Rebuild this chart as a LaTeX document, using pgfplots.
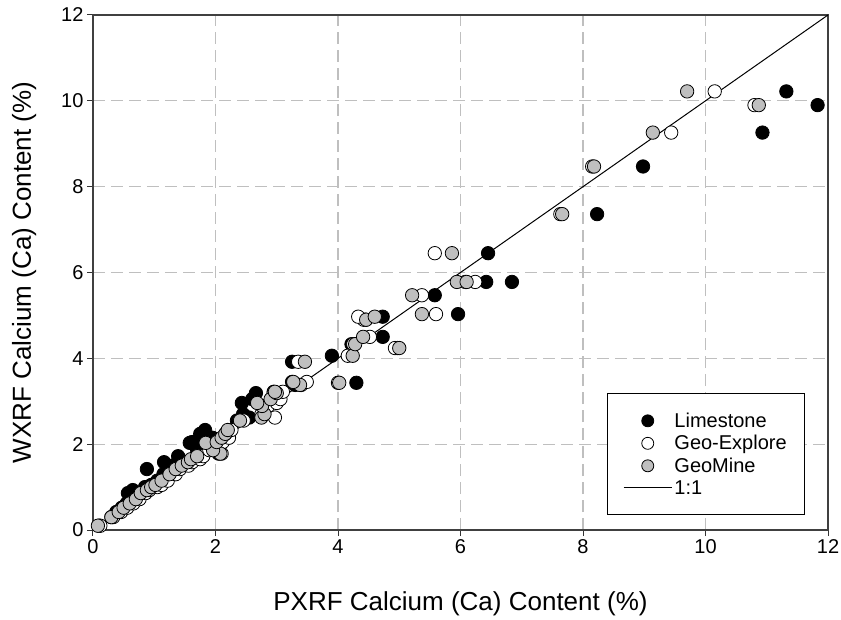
\documentclass[border=0pt]{standalone}
\usepackage{fontspec}
\setmainfont{Liberation Sans}
\usepackage{pgfplots}
\usepackage{pgfplotstable}
\pgfplotsset{compat=1.18}
\pgfplotstableread{
y ls ge gm
0.10 0.10 0.12 0.08
0.30 0.30 0.33 0.30
0.42 0.38 0.46 0.42
0.52 0.47 0.56 0.50
0.62 0.55 0.66 0.60
0.72 0.62 0.76 0.70
0.86 0.57 0.86 0.78
0.93 0.65 0.92 0.88
1.00 0.85 1.05 0.95
1.05 0.95 1.12 1.02
1.15 1.05 1.22 1.12
1.30 1.15 1.35 1.25
1.42 0.88 1.42 1.35
1.50 1.30 1.56 1.45
1.58 1.16 1.62 1.55
1.65 1.40 1.75 1.60
1.72 1.39 1.80 1.70
1.78 2.05 2.10 2.08
1.86 1.70 1.90 1.96
2.03 1.58 2.00 1.84
2.05 1.62 2.12 2.02
2.15 1.95 2.22 2.10
2.24 1.75 2.16 2.16
2.33 1.83 2.26 2.20
2.55 2.35 2.46 2.40
2.62 2.55 2.97 2.75
2.70 2.45 2.75 2.80
2.89 2.81 2.86 2.76
2.96 2.43 3.00 2.68
3.05 2.60 3.06 2.90
3.19 2.66 2.95 3.00
3.22 2.95 3.10 2.97
3.38 3.30 3.40 3.38
3.45 3.25 3.49 3.27
3.43 4.30 4.00 4.02
3.92 3.25 3.35 3.46
4.06 3.90 4.16 4.24
4.24 4.97 4.93 5.00
4.33 4.22 4.25 4.28
4.50 4.73 4.52 4.41
4.90 4.45 4.42 4.46
4.97 4.73 4.33 4.60
5.03 5.96 5.60 5.37
5.47 5.58 5.37 5.21
5.78 6.42 6.24 5.94
5.78 6.84 6.08 6.10
6.45 6.45 5.58 5.86
7.36 8.23 7.63 7.66
8.47 8.98 8.15 8.18
9.26 10.93 9.44 9.14
9.90 11.83 10.80 10.87
10.22 11.32 10.15 9.70
}\datatable
\begin{document}
\begin{tikzpicture}
\path[use as bounding box] (-93pt,-89pt) rectangle (748pt,530pt);
\begin{axis}[
  at={(0,0)}, anchor=south west,
  scale only axis, width=735pt, height=515pt,
  xmin=0, xmax=12, ymin=0, ymax=12,
  xtick={0,2,...,12}, ytick={0,2,...,12},
  tick pos=left, tick align=outside, major tick length=6pt,
  tick style={line width=1pt, color=black!80},
  axis line style={line width=1.3pt, color=black!75},
  grid=major,
  major grid style={dash pattern=on 12pt off 6pt, color=black!25, line width=1.1pt},
  /pgf/number format/assume math mode=true,
  ticklabel style={font=\fontsize{20}{22}\selectfont},
  xlabel={PXRF Calcium (Ca) Content (\%)},
  ylabel={WXRF Calcium (Ca) Content (\%)},
  label style={font=\fontsize{26}{30}\selectfont},
  xlabel style={yshift=-31pt},
  ylabel style={yshift=18pt},
  legend cell align=left,
  legend image code/.code={\draw[mark repeat=2,mark phase=2,#1] plot coordinates {(0cm,0cm)(0.85cm,0cm)(1.7cm,0cm)};},
  legend style={at={(0.969,0.029)}, anchor=south east, draw=black, line width=1pt,
    fill=white, font=\fontsize{20}{22}\selectfont, inner xsep=16pt, inner ysep=17pt,
    row sep=2.5pt},
]
\addplot[only marks, mark=*, mark size=6.7pt, mark options={draw=black, fill=black, line width=0.8pt},
  legend image post style={mark size=6pt}] table[x=ls, y=y] {\datatable};
\addlegendentry{Limestone}
\addplot[only marks, mark=*, mark size=6.7pt, mark options={draw=black, fill=white, line width=0.8pt},
  legend image post style={mark size=6pt}] table[x=ge, y=y] {\datatable};
\addlegendentry{Geo-Explore}
\addplot[only marks, mark=*, mark size=6.7pt, mark options={draw=black, fill=black!25, line width=0.8pt},
  legend image post style={mark size=6pt}] table[x=gm, y=y] {\datatable};
\addlegendentry{GeoMine}
\addplot[black, line width=1pt, mark=none] coordinates {(0,0) (12,12)};
\addlegendentry{1:1}
\end{axis}
\end{tikzpicture}
\end{document}
